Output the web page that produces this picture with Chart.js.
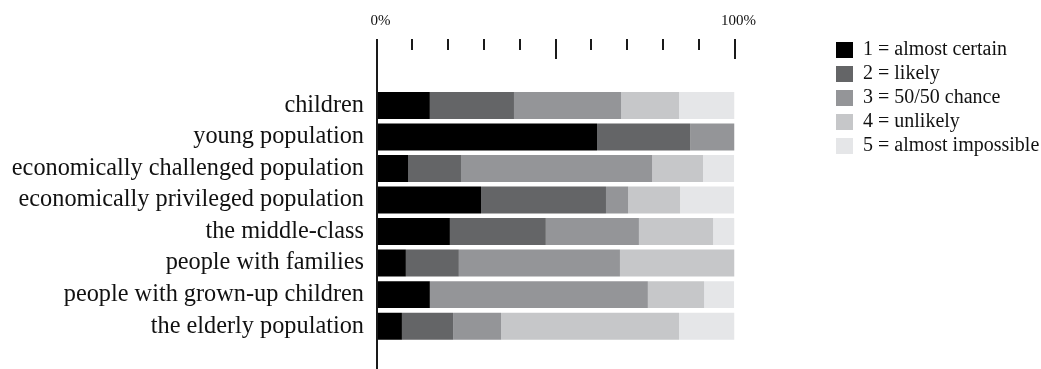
<!DOCTYPE html>
<html>
<head>
<meta charset="utf-8">
<title>Likelihood by population group</title>
<script src="https://cdn.jsdelivr.net/npm/chart.js@4.4.1/dist/chart.umd.min.js"></script>
<style>
  html, body { margin: 0; padding: 0; background: #ffffff; }
  #chart { display: block; }
</style>
</head>
<body>
<canvas id="chart" width="1041" height="369"></canvas>
<script>
// Population groups (one horizontal bar each)
const categories = [
  'children',
  'young population',
  'economically challenged population',
  'economically privileged population',
  'the middle-class',
  'people with families',
  'people with grown-up children',
  'the elderly population'
];

// Answer scale
const seriesLabels = [
  '1 = almost certain',
  '2 = likely',
  '3 = 50/50 chance',
  '4 = unlikely',
  '5 = almost impossible'
];

// Share of answers per group, in percent
const almostCertain    = [14.9, 61.6,  8.8, 29.2, 20.5,  8.2, 14.9,  7.1];
const likely           = [23.5, 26.0, 14.8, 34.9, 26.8, 14.8,  0.0, 14.3];
const fiftyFifty       = [29.9, 12.4, 53.4,  6.2, 26.0, 45.0, 60.9, 13.4];
const unlikely         = [16.2,  0.0, 14.2, 14.5, 20.7, 32.0, 15.7, 49.7];
const almostImpossible = [15.5,  0.0,  8.7, 15.1,  6.0,  0.0,  8.4, 15.5];

// Percentage axis
const tickValues = [0, 10, 20, 30, 40, 50, 60, 70, 80, 90, 100];
const majorTickValues = [0, 50, 100];
const tickLabels = { 0: '0%', 100: '100%' };

const seriesValues = [almostCertain, likely, fiftyFifty, unlikely, almostImpossible];
const seriesColors = ['#000000', '#646567', '#949598', '#c6c7c9', '#e5e6e8'];

const FONT = 'Liberation Serif';
const INK = '#111111';

// Hanging tick marks along the top and the long vertical axis line
const axisMarks = {
  id: 'axisMarks',
  afterDraw(chart) {
    const { ctx, scales: { x } } = chart;
    const top = 39;
    ctx.save();
    ctx.strokeStyle = '#1a1a1a';
    ctx.lineWidth = 2;
    ctx.beginPath();
    tickValues.forEach(v => {
      const px = Math.round(x.getPixelForValue(v));
      const len = majorTickValues.includes(v) ? 20 : 11;
      ctx.moveTo(px, top);
      ctx.lineTo(px, top + len);
    });
    const x0 = Math.round(x.getPixelForValue(0));
    ctx.moveTo(x0, top);
    ctx.lineTo(x0, chart.height);
    ctx.stroke();
    ctx.restore();
  }
};

new Chart(document.getElementById('chart'), {
  type: 'bar',
  data: {
    labels: categories,
    datasets: seriesLabels.map((label, i) => ({
      label,
      data: seriesValues[i],
      backgroundColor: seriesColors[i],
      borderWidth: 0,
      barPercentage: 0.855,
      categoryPercentage: 1.0
    }))
  },
  options: {
    indexAxis: 'y',
    responsive: false,
    animation: false,
    devicePixelRatio: 1,
    layout: { padding: { top: 0, right: 0, bottom: 26.7, left: 0 } },
    scales: {
      x: {
        type: 'linear',
        position: 'top',
        min: 0,
        max: 100,
        stacked: true,
        afterBuildTicks: scale => { scale.ticks = tickValues.map(v => ({ value: v })); },
        ticks: {
          callback: v => tickLabels[v] ?? '',
          autoSkip: false,
          maxRotation: 0,
          padding: 59.7,
          labelOffset: 4,
          color: INK,
          font: { family: FONT, size: 15 }
        },
        grid: { display: false, drawTicks: false },
        border: { display: false },
        afterFit: scale => { scale.height = 89.7; }
      },
      y: {
        type: 'category',
        stacked: true,
        offset: true,
        ticks: {
          autoSkip: false,
          padding: 12.5,
          color: INK,
          font: { family: FONT, size: 24.3 }
        },
        grid: { display: false, drawTicks: false },
        border: { display: false },
        afterFit: scale => { scale.width = 376.5; }
      },
      gap: {
        type: 'linear',
        position: 'right',
        display: true,
        ticks: { display: false },
        grid: { display: false, drawTicks: false },
        border: { display: false },
        afterFit: scale => { scale.width = 97.5; }
      }
    },
    plugins: {
      legend: {
        position: 'right',
        align: 'start',
        maxWidth: 209,
        title: {
          display: true,
          text: '',
          font: { family: FONT, size: 10, lineHeight: 1.2 },
          padding: { top: 24, bottom: 0 }
        },
        labels: {
          boxWidth: 17,
          boxHeight: 16,
          padding: 4,
          color: INK,
          font: { family: FONT, size: 20 }
        }
      },
      tooltip: { enabled: false }
    }
  },
  plugins: [axisMarks]
});
</script>
</body>
</html>
